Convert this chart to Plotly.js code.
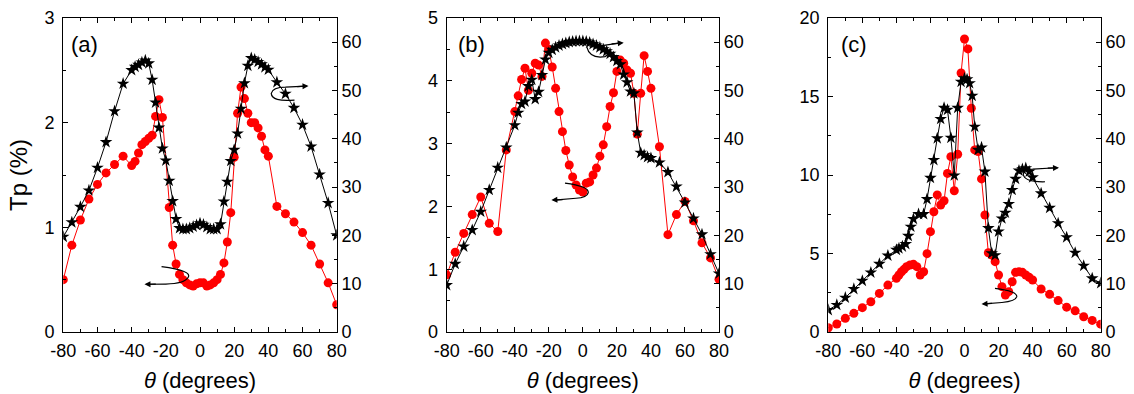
<!DOCTYPE html>
<html>
<head>
<meta charset="utf-8">
<script src="https://cdn.plot.ly/plotly-3.0.1.min.js"></script>
<style>html,body{margin:0;padding:0;background:#fff;}#chart{width:1134px;height:394px;}</style>
</head>
<body>
<div id="chart"></div>
<script>
// ---------- Panel (a) ----------
const thetaA_red = [-80,-75,-70,-65,-60,-55,-50,-45,-40,-38,-36,-34,-32,-30,-28,-26,-24,-22,-18,-16,-14,-12,-10,-8,-6,-4,-2,0,2,4,6,8,10,12,14,16,18,20,22,24,26,28,30,32,34,36,38,40,45,50,55,60,65,70,75,80];
const tpA = [0.50,0.83,1.07,1.27,1.41,1.52,1.60,1.68,1.59,1.63,1.71,1.79,1.82,1.85,1.88,2.06,2.22,2.05,1.19,0.83,0.65,0.55,0.50,0.47,0.45,0.44,0.46,0.47,0.47,0.44,0.45,0.47,0.50,0.55,0.66,0.86,1.14,1.67,2.09,2.34,2.23,2.09,2.00,2.00,1.95,1.87,1.74,1.68,1.20,1.13,1.05,0.95,0.83,0.65,0.47,0.26];
const thetaA_blk = [-80,-75,-70,-65,-60,-55,-50,-45,-40,-38,-36,-34,-32,-30,-28,-26,-24,-22,-20,-18,-16,-14,-12,-10,-8,-6,-4,-2,0,2,4,6,8,10,12,14,16,18,20,22,24,26,28,30,32,34,36,38,40,45,50,55,60,65,70,75,80];
const angA = [19.7,22.7,25.9,29.3,34.0,39.3,45.7,51.4,54.2,54.9,55.3,55.8,56.2,55.6,52.2,47.5,42.3,38.0,35.5,31.3,27.1,23.4,21.5,21.3,21.3,21.5,21.8,22.1,22.5,22.2,21.7,21.3,21.3,21.3,22.3,27.0,31.1,35.4,37.7,41.1,46.2,51.5,55.1,56.7,56.4,55.9,55.4,54.8,54.3,51.7,49.3,46.4,42.9,38.4,32.6,26.7,20.0];

// ---------- Panel (b) ----------
const thetaB_red = [-80,-75,-70,-65,-60,-55,-50,-45,-40,-38,-36,-34,-32,-30,-28,-26,-24,-22,-20,-18,-16,-14,-12,-10,-8,-6,-4,-2,0,2,4,6,8,10,12,14,16,18,20,22,24,26,28,30,32,34,36,38,40,45,50,55,60,65,70,75,80];
const tpB = [0.91,1.27,1.57,1.87,2.15,1.73,1.60,2.90,3.51,3.76,4.02,4.20,3.85,4.12,4.28,4.25,4.07,4.60,4.50,4.22,3.88,3.51,3.19,2.89,2.66,2.47,2.34,2.26,2.23,2.37,2.39,2.50,2.61,2.80,2.98,3.27,3.59,3.81,4.15,4.33,4.28,4.17,4.12,3.80,3.15,3.80,4.40,4.15,3.88,2.95,1.55,1.87,2.08,1.77,1.42,1.18,0.84];
const thetaB_blk = [-80,-75,-70,-65,-60,-55,-50,-45,-40,-38,-36,-34,-32,-30,-28,-26,-24,-22,-20,-18,-16,-14,-12,-10,-8,-6,-4,-2,0,2,4,6,8,10,12,14,16,18,20,22,24,26,28,30,32,34,36,38,40,45,50,55,60,65,70,75,80];
const angB = [9.7,14.1,17.7,21.1,24.9,29.4,34.0,38.2,42.8,45.4,47.2,47.7,50.9,52.2,48.2,49.7,53.2,56.4,57.8,58.4,58.9,59.3,59.6,59.8,60.0,60.1,60.2,60.2,60.2,60.1,59.9,59.6,59.3,58.9,58.5,58.1,57.6,56.9,56.1,55.4,53.3,51.7,49.8,49.4,41.3,37.1,36.6,36.2,36.0,35.1,33.1,30.1,26.8,23.5,20.2,16.1,12.1];

// ---------- Panel (c) ----------
const thetaC_red = [-80,-75,-70,-65,-60,-55,-50,-45,-40,-38.5,-37,-35.5,-34,-32,-30,-28,-26,-24,-22,-20,-18,-16,-14,-12,-10,-8,-6,-4,-2,0,2,4,6,8,10,12,14,16,18,20,22,24,26,28,30,32,34,36,38,40,45,50,55,60,65,70,75,80];
const tpC = [0.27,0.51,0.87,1.19,1.55,1.93,2.46,2.99,3.42,3.63,3.84,3.99,4.16,4.27,4.31,4.16,3.63,3.84,4.99,6.39,7.66,8.73,8.09,8.36,10.1,11.17,9.0,11.32,16.5,18.66,18.03,14.25,11.6,11.5,9.75,7.45,5.05,4.9,4.48,3.63,2.89,2.36,2.57,3.20,3.80,3.84,3.80,3.63,3.48,3.31,2.74,2.40,2.0,1.58,1.35,0.97,0.74,0.5];
const thetaC_blk = [-80,-75,-70,-65,-60,-55,-50,-45,-40,-38.5,-36.5,-34.5,-33,-31.5,-30,-27,-24,-22,-20,-18,-16,-14,-12,-10,-8,-6,-4,-2,0,1.5,3,4.5,6,8,10,12,14,16,18,20,22,24,26,28,30,32,34,36,38,40,45,50,55,60,65,70,75,80];
const angC = [4.55,5.6,7.1,8.9,10.6,12.3,14.1,15.8,17.0,17.3,17.7,18.2,19.9,21.8,23.4,24.4,24.4,27.5,31.9,35.6,40.1,44.1,46.4,46.0,40.2,32.4,46.4,51.8,52.5,52.3,51.5,48.9,42.5,37.7,38.2,33.2,21.5,16.3,15.9,20.8,23.5,24.7,26.5,29.4,31.7,33.4,33.7,33.9,33.2,32.0,28.7,25.7,22.5,19.6,16.4,13.7,11.1,10.1];

// ---------- Tick labels and texts ----------
const xTickVals = [-80,-60,-40,-20,0,20,40,60,80];
const xTickText = ['-80','-60','-40','-20','0','20','40','60','80'];
const panelLabels = ['(a)','(b)','(c)'];
const xTitle = '<i>θ</i> (degrees)';
const yTitle = 'Tp (%)';

const FONT = 'Liberation Sans, Arial, sans-serif';
const W = 1134, H = 394;
const yDom = [(H-332)/H, (H-18)/H];
const xDoms = [[63.3/W, 336.7/W],[446.7/W, 719/W],[828.3/W, 1100.7/W]];
const leftRanges = [[0,3],[0,5],[0,20]];
const leftDt = [1,1,5];

function redTrace(x,y,xa,ya){return {x:x,y:y,xaxis:xa,yaxis:ya,type:'scatter',mode:'lines+markers',
  line:{color:'#ff0000',width:1},marker:{color:'#ff0000',size:9},hoverinfo:'skip'};}
function blkTrace(x,y,xa,ya){return {x:x,y:y,xaxis:xa,yaxis:ya,type:'scatter',mode:'lines+markers',
  line:{color:'#000',width:1},marker:{color:'#000',size:9.5,symbol:'star'},hoverinfo:'skip'};}

const data = [
  redTrace(thetaA_red,tpA,'x','y'), blkTrace(thetaA_blk,angA,'x','y2'),
  redTrace(thetaB_red,tpB,'x2','y3'), blkTrace(thetaB_blk,angB,'x2','y4'),
  redTrace(thetaC_red,tpC,'x3','y5'), blkTrace(thetaC_blk,angC,'x3','y6')
];

const layout = {width:W,height:H,margin:{l:0,r:0,t:0,b:0},showlegend:false,
  paper_bgcolor:'#fff',plot_bgcolor:'rgba(0,0,0,0)',font:{family:FONT,color:'#000',size:18},
  shapes:[],annotations:[]};

const axNames = [['xaxis','yaxis','yaxis2','x','y','y2'],['xaxis2','yaxis3','yaxis4','x2','y3','y4'],['xaxis3','yaxis5','yaxis6','x3','y5','y6']];
for(let i=0;i<3;i++){
  const [xn,yn,y2n,xr,yr,y2r] = axNames[i];
  layout[xn] = {domain:xDoms[i],anchor:yr,range:[-80,80],tickmode:'array',tickvals:xTickVals,ticktext:xTickText,
    ticks:'inside',ticklen:5,tickwidth:1,tickcolor:'#000',showline:true,linecolor:'#000',linewidth:1.2,
    mirror:'ticks',showgrid:false,zeroline:false,tickfont:{size:18,family:FONT},ticklabelstandoff:2,
    minor:{tickmode:'linear',tick0:0,dtick:10,ticks:'inside',ticklen:3,tickcolor:'#000',showgrid:false},
    title:{text:xTitle,font:{size:22,family:FONT},standoff:12}};
  layout[yn] = {domain:yDom,anchor:xr,range:leftRanges[i],tickmode:'linear',tick0:0,dtick:leftDt[i],
    ticks:'inside',ticklen:5,tickwidth:1,tickcolor:'#000',showline:true,linecolor:'#000',linewidth:1.2,
    showgrid:false,zeroline:false,tickfont:{size:18,family:FONT},ticklabelstandoff:4,
    minor:{dtick:leftDt[i]/2,ticks:'inside',ticklen:3,tickcolor:'#000',showgrid:false}};
  if(i===0){layout[yn].title={text:yTitle,font:{size:24,family:FONT},standoff:10};}
  layout[y2n] = {overlaying:yr,side:'right',anchor:xr,range:[0,65],tickmode:'linear',tick0:0,dtick:10,
    ticks:'inside',ticklen:5,tickwidth:1,tickcolor:'#000',showline:true,linecolor:'#000',linewidth:1.2,
    showgrid:false,zeroline:false,tickfont:{size:18,family:FONT},
    minor:{dtick:5,ticks:'inside',ticklen:3,tickcolor:'#000',showgrid:false}};
  layout.annotations.push({text:panelLabels[i],xref:xr+' domain',yref:yr+' domain',
    x:[0.021,0.034,0.039][i],y:0.917,xanchor:'left',yanchor:'middle',showarrow:false,font:{size:22,family:FONT}});
}

// curly arrows pointing to the relevant axis
const curls = [
  {xr:'x',yr:'y',path:'M -22.5,0.624 Q -4,0.585 -7,0.52 Q -9,0.462 -20,0.458 L -31,0.456',head:[-32.5,0.456],tail:[-25,0.457]},
  {xr:'x',yr:'y2',path:'M 55.3,48.0 Q 42,47.6 41.7,49.4 Q 42.5,50.7 50,50.7 L 62,50.9',head:[63.5,50.9],tail:[56,50.8]},
  {xr:'x2',yr:'y3',path:'M -10.5,2.37 Q 3.5,2.32 3.2,2.22 Q 2.5,2.14 -4,2.13 L -17,2.10',head:[-18.5,2.10],tail:[-11,2.11]},
  {xr:'x2',yr:'y4',path:'M 2.3,59.0 Q 4,56.5 13,57.0 Q 17,57.6 11,59.3 L 22.5,59.85',head:[24,59.9],tail:[16,59.6]},
  {xr:'x3',yr:'y5',path:'M 17.9,2.78 Q 31,2.6 30.7,2.25 Q 30,1.95 22,1.88 L 11.5,1.79',head:[10,1.78],tail:[17,1.83]},
  {xr:'x3',yr:'y6',path:'M 47.3,31.1 Q 35,31 34.5,32.7 Q 35,33.7 40,33.7 L 54,34.0',head:[55.5,34.0],tail:[48,33.9]}
];
curls.forEach(c=>{
  layout.shapes.push({type:'path',xref:c.xr,yref:c.yr,path:c.path,line:{color:'#000',width:1.2}});
  layout.annotations.push({text:'',xref:c.xr,yref:c.yr,axref:c.xr,ayref:c.yr,x:c.head[0],y:c.head[1],
    ax:c.tail[0],ay:c.tail[1],showarrow:true,arrowhead:2,arrowsize:1,arrowwidth:1.2,arrowcolor:'#000'});
});

Plotly.newPlot('chart',data,layout,{displayModeBar:false,staticPlot:true});
</script>
</body>
</html>
